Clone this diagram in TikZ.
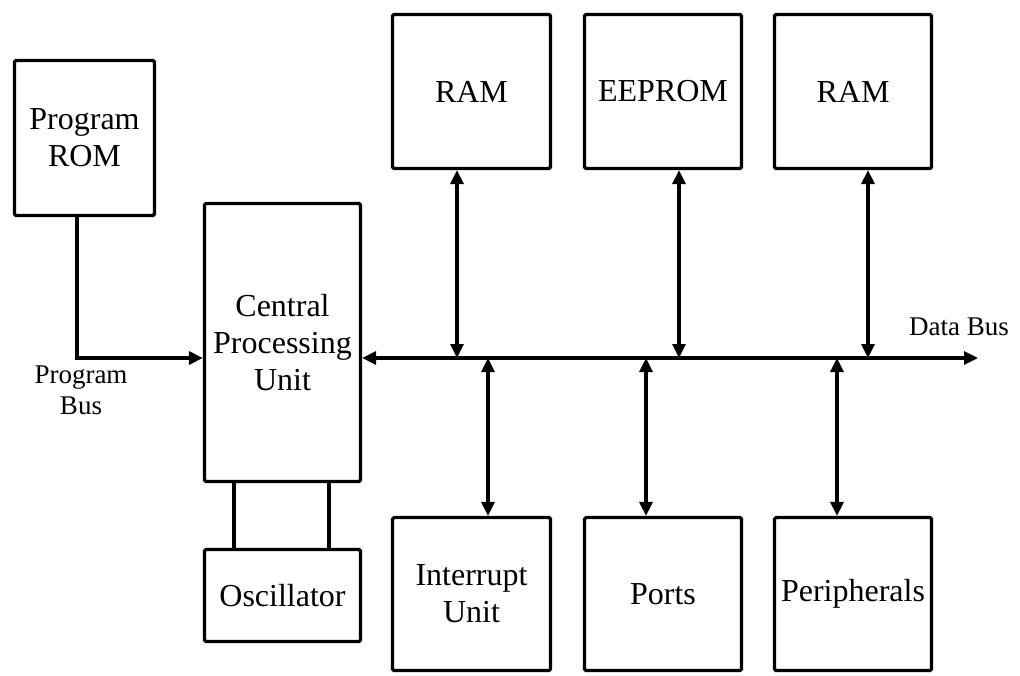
\documentclass[tikz,border=0pt]{standalone}
\usepackage{fontspec}
\setmainfont{Liberation Serif}
\usetikzlibrary{arrows.meta}
\begin{document}
\begin{tikzpicture}[x=1pt,y=-1pt,
  box/.style={draw, line width=3.2pt, rounded corners=1.5pt, inner sep=0pt, align=center,
    font=\fontsize{32}{37}\selectfont},
  lbl/.style={inner sep=0pt, align=center, font=\fontsize{27}{31}\selectfont},
  wire/.style={line width=3.2pt},
  arr/.style={line width=3.2pt, -{Triangle[length=14pt,width=13pt]}},
  darr/.style={line width=3.2pt, {Triangle[length=14pt,width=13pt]}-{Triangle[length=14pt,width=13pt]}}]
\useasboundingbox (0,0) rectangle (1020,675);
% boxes
\node[box, minimum width=140pt, minimum height=155pt] (rom) at (84.5,138) {Program\\ROM};
\node[box, minimum width=156pt, minimum height=278pt] (cpu) at (282.5,342.5) {Central\\Processing\\Unit};
\node[box, minimum width=156pt, minimum height=92pt] (osc) at (282.5,595.5) {Oscillator};
\node[box, minimum width=158pt, minimum height=154pt] (ram1) at (471.5,91.5) {RAM};
\node[box, minimum width=157pt, minimum height=154pt] (eep) at (663,91.5) {EEPROM};
\node[box, minimum width=157pt, minimum height=154pt] (ram2) at (853,91.5) {RAM};
\node[box, minimum width=158pt, minimum height=153pt] (intu) at (471.5,594) {Interrupt\\Unit};
\node[box, minimum width=157pt, minimum height=153pt] (ports) at (663,594) {Ports};
\node[box, minimum width=157pt, minimum height=153pt] (peri) at (853,594) {Peripherals};
% labels
\node[lbl] (pbl) at (81,390) {Program\\Bus};
\node[lbl] (dbl) at (959,327) {Data Bus};
% coordinates
\coordinate (pb) at (77,358);
\coordinate (dend) at (978,358);
\coordinate (b1) at (457,358);
\coordinate (b2) at (679,358);
\coordinate (b3) at (868,358);
\coordinate (c1) at (488,358);
\coordinate (c2) at (646,358);
\coordinate (c3) at (837,358);
\coordinate (o1) at (234,500);
\coordinate (o2) at (329,500);
% program bus
\draw[arr] (rom.south -| pb) -- (pb) -- (cpu.west |- pb);
% data bus
\draw[darr] (cpu.east |- dend) -- (dend);
% memory connections
\draw[darr] (ram1.south -| b1) -- (b1);
\draw[darr] (eep.south -| b2) -- (b2);
\draw[darr] (ram2.south -| b3) -- (b3);
\draw[darr] (c1) -- (intu.north -| c1);
\draw[darr] (c2) -- (ports.north -| c2);
\draw[darr] (c3) -- (peri.north -| c3);
% oscillator
\draw[wire] (cpu.south -| o1) -- (osc.north -| o1);
\draw[wire] (cpu.south -| o2) -- (osc.north -| o2);
\end{tikzpicture}
\end{document}
